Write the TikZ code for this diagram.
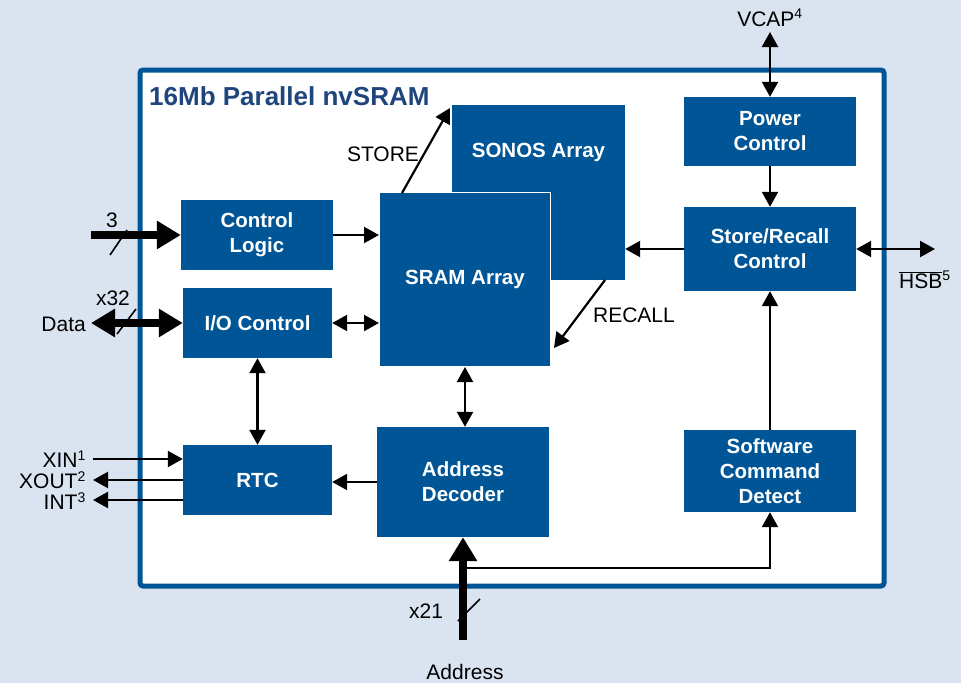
\documentclass[tikz,border=0pt]{standalone}
\usepackage{fontspec}
\setmainfont{Liberation Sans}
\usetikzlibrary{arrows.meta,calc}
\definecolor{bgblue}{RGB}{218,227,240}
\definecolor{blkblue}{RGB}{0,85,150}
\definecolor{ttlblue}{RGB}{30,70,125}
\tikzset{
  blk/.style={fill=blkblue, draw=none, text=white, align=center,
    font=\bfseries\fontsize{20.5}{25}\selectfont, inner sep=0pt},
  lbl/.style={font=\fontsize{21}{25}\selectfont, inner sep=0pt},
  sig/.style={line width=2.2pt, -{Triangle[length=15pt,width=16pt]}},
  sigb/.style={line width=2.2pt, {Triangle[length=15pt,width=16pt]}-{Triangle[length=15pt,width=16pt]}},
  bus/.style={line width=8pt, -{Triangle[length=24pt,width=27pt]}},
  busb/.style={line width=8pt, {Triangle[length=24pt,width=27pt]}-{Triangle[length=24pt,width=27pt]}},
  tick/.style={line width=1.6pt},
}
\newcommand{\supnum}[1]{\textsuperscript{\fontsize{14}{14}\selectfont #1}}
\begin{document}
\begin{tikzpicture}[x=1pt,y=-1pt]
  % page and chip outline
  \fill[bgblue] (0,0) rectangle (961,683);
  \useasboundingbox (0,0) rectangle (961,683);
  \draw[blkblue, line width=5pt, fill=white, rounded corners=3pt] (140,70) rectangle (884,586);
  \node[anchor=west, text=ttlblue, font=\bfseries\fontsize{26}{30}\selectfont, inner sep=0pt] (title) at (149,96) {16Mb Parallel nvSRAM};

  % functional blocks
  \node[blk, minimum width=152pt, minimum height=70pt] (ctrl) at (257,235) {Control\\Logic};
  \node[blk, minimum width=149pt, minimum height=70pt] (io) at (257.5,323) {I/O Control};
  \node[blk, minimum width=149pt, minimum height=70pt] (rtc) at (257.5,480) {RTC};
  \node[blk, minimum width=173pt, minimum height=175pt] (sonos) at (538.5,192.5) {};
  \node[blk, text=white] (sonoslbl) at (538.5,152) {SONOS Array};
  \node[blk, draw=white, line width=1pt, minimum width=171pt, minimum height=174pt] (sram) at (465,279.5) {SRAM Array};
  \node[blk, minimum width=172pt, minimum height=110pt] (addr) at (463,482) {Address\\Decoder};
  \node[blk, minimum width=172pt, minimum height=69pt] (pwr) at (770,131.5) {Power\\Control};
  \node[blk, minimum width=172pt, minimum height=84pt] (sr) at (770,249) {Store/Recall\\Control};
  \node[blk, minimum width=172pt, minimum height=82pt] (scd) at (770,471) {Software\\Command\\Detect};

  % free ends of external signals
  \coordinate (inx) at (91,0);
  \coordinate (clkx) at (93,0);
  \coordinate (vcap) at (770,32);
  \coordinate (hsb) at (935,249);
  \coordinate (abus) at (463,640);
  \coordinate (abr) at (463,568);
  \coordinate (scdbr) at (770,568);
  \coordinate (stfrom) at (402,193);
  \coordinate (stto) at (450,108);
  \coordinate (rcfrom) at (605,280);
  \coordinate (rcto) at (554,348);

  % external buses
  \draw[bus] (ctrl.west -| inx) -- (ctrl.west);
  \draw[busb] (io.west -| inx) -- (io.west);
  \draw[bus] (abus) -- (addr.south);
  \draw[tick] (110,255) -- (127,230);
  \draw[tick] (117,334) -- (136,309);
  \draw[tick] (458,621) -- (480,599);

  % clock and interrupt lines
  \draw[sig] ($(rtc.west -| clkx)+(0,-21)$) -- ($(rtc.west)+(0,-21)$);
  \draw[sig] (rtc.west) -- (rtc.west -| clkx);
  \draw[sig] ($(rtc.west)+(0,20)$) -- ($(rtc.west -| clkx)+(0,20)$);

  % internal connections
  \draw[sig] (ctrl.east) -- (ctrl.east -| sram.west);
  \draw[sigb] (io.east) -- (io.east -| sram.west);
  \draw[sigb] (io.south) -- (rtc.north);
  \draw[sig] (addr.west) -- (addr.west -| rtc.east);
  \draw[sigb] (sram.south) -- (sram.south |- addr.north);
  \draw[sig] (stfrom) -- (stto);
  \draw[sig] (rcfrom) -- (rcto);
  \draw[sig] (sr.west) -- (sr.west -| sonos.east);
  \draw[sig] (pwr.south) -- (sr.north);
  \draw[sigb] (vcap) -- (pwr.north);
  \draw[sigb] (sr.east) -- (hsb);
  \draw[sig] (scd.north) -- (sr.south);
  \draw[sig] (abr) -- (scdbr) -- (scd.south);

  % signal labels
  \node[lbl] (l3) at (112,220) {3};
  \node[lbl] (lx32) at (113,298) {x32};
  \node[lbl, anchor=east] (ldata) at (86,324) {Data};
  \node[lbl, anchor=east] (lxin) at (86,459) {XIN\supnum{1}};
  \node[lbl, anchor=east] (lxout) at (86,480) {XOUT\supnum{2}};
  \node[lbl, anchor=east] (lint) at (86,501) {INT\supnum{3}};
  \node[lbl] (lstore) at (383,154) {STORE};
  \node[lbl] (lrecall) at (634,315) {RECALL};
  \node[lbl] (lvcap) at (770,18) {VCAP\supnum{4}};
  \node[lbl, anchor=west] (lhsb) at (899,280) {$\overline{\mbox{HSB}}$\supnum{5}};
  \node[lbl] (lx21) at (426,611) {x21};
  \node[lbl] (laddr) at (465,672) {Address};
\end{tikzpicture}
\end{document}
